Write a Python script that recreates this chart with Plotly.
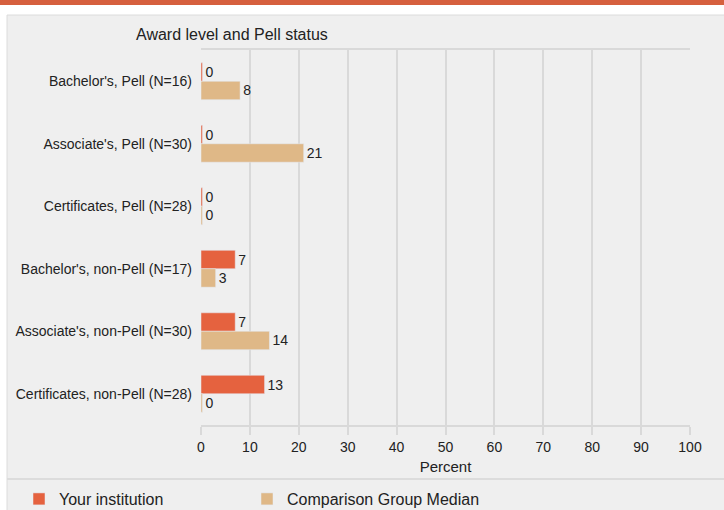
import plotly.graph_objects as go

categories = [
    "Bachelor's, Pell (N=16)",
    "Associate's, Pell (N=30)",
    "Certificates, Pell (N=28)",
    "Bachelor's, non-Pell (N=17)",
    "Associate's, non-Pell (N=30)",
    "Certificates, non-Pell (N=28)",
]
your_institution = [0, 0, 0, 7, 7, 13]
comparison_median = [8, 21, 0, 3, 14, 0]
x_ticks = [0, 10, 20, 30, 40, 50, 60, 70, 80, 90, 100]

ORANGE = "#E5623F"
TAN = "#DFB887"
FONT = "Liberation Sans, Arial, sans-serif"

# tiny visible stub for zero values (as in reference), labels show real values
def shown(vals):
    return [v if v > 0 else 0.3 for v in vals]

fig = go.Figure()
fig.add_trace(go.Bar(
    y=categories, x=shown(your_institution), customdata=your_institution,
    orientation="h", name="Your institution", marker_color=ORANGE,
    texttemplate="%{customdata}", textposition="outside", cliponaxis=False,
    textfont=dict(size=14, color="#222", family=FONT), hoverinfo="skip",
    legend="legend",
))
fig.add_trace(go.Bar(
    y=categories, x=shown(comparison_median), customdata=comparison_median,
    orientation="h", name="Comparison Group Median", marker_color=TAN,
    texttemplate="%{customdata}", textposition="outside", cliponaxis=False,
    textfont=dict(size=14, color="#222", family=FONT), hoverinfo="skip",
    legend="legend2",
))

L, R, T, B = 201, 34, 50, 85
W, H = 724, 510
pw, ph = W - L - R, H - T - B
def px(x): return (x - L) / pw
def py(y): return (H - B - y) / ph

shapes = [
    dict(type="rect", xref="paper", yref="paper", x0=px(0), x1=px(W), y0=py(0), y1=py(5),
         fillcolor="#D6603E", line_width=0, layer="below"),
    dict(type="rect", xref="paper", yref="paper", x0=px(7), x1=px(W + 2), y0=py(15), y1=py(H + 2),
         fillcolor="#EFEFEF", line=dict(color="#DCDCDC", width=1), layer="below"),
    dict(type="line", xref="paper", yref="paper", x0=px(7), x1=px(W), y0=py(479), y1=py(479),
         line=dict(color="#DCDCDC", width=2), layer="below"),
]

legend_common = dict(orientation="h", yanchor="middle",
                     font=dict(size=16, family=FONT, color="#222"),
                     bgcolor="rgba(0,0,0,0)", borderwidth=0)

fig.update_layout(
    width=W, height=H,
    margin=dict(l=L, r=R, t=T, b=B, pad=0, autoexpand=False),
    paper_bgcolor="white", plot_bgcolor="rgba(0,0,0,0)",
    barmode="group", bargap=0.41, bargroupgap=0,
    font=dict(family=FONT, size=14, color="#222"),
    shapes=shapes,
    showlegend=True,
    legend=dict(x=px(19), y=py(499), xanchor="left", **legend_common),
    legend2=dict(x=px(247), y=py(499), xanchor="left", **legend_common),
    annotations=[dict(text="Award level and Pell status", xref="paper", yref="paper",
                      x=px(134), y=py(34), xanchor="left", yanchor="middle",
                      showarrow=False, font=dict(size=16, family=FONT, color="#222"))],
)
fig.update_xaxes(
    range=[0, 100], tickvals=x_ticks, ticktext=[str(t) for t in x_ticks],
    showgrid=True, gridcolor="#D9D9D9", gridwidth=2,
    showline=True, linecolor="#D9D9D9", linewidth=2, mirror=True,
    ticks="outside", ticklen=8, tickcolor="#D9D9D9", tickwidth=2,
    zeroline=False, tickfont=dict(size=14),
    title=dict(text="Percent", font=dict(size=15), standoff=8),
    fixedrange=True, automargin=False,
)
fig.update_yaxes(
    autorange="reversed", showgrid=False, showline=False, zeroline=False,
    ticks="", ticklabelstandoff=8, tickfont=dict(size=14), fixedrange=True,
    automargin=False,
)

fig.write_html("out.html", config={"displayModeBar": False},
               post_script="document.body.style.margin='0';")
